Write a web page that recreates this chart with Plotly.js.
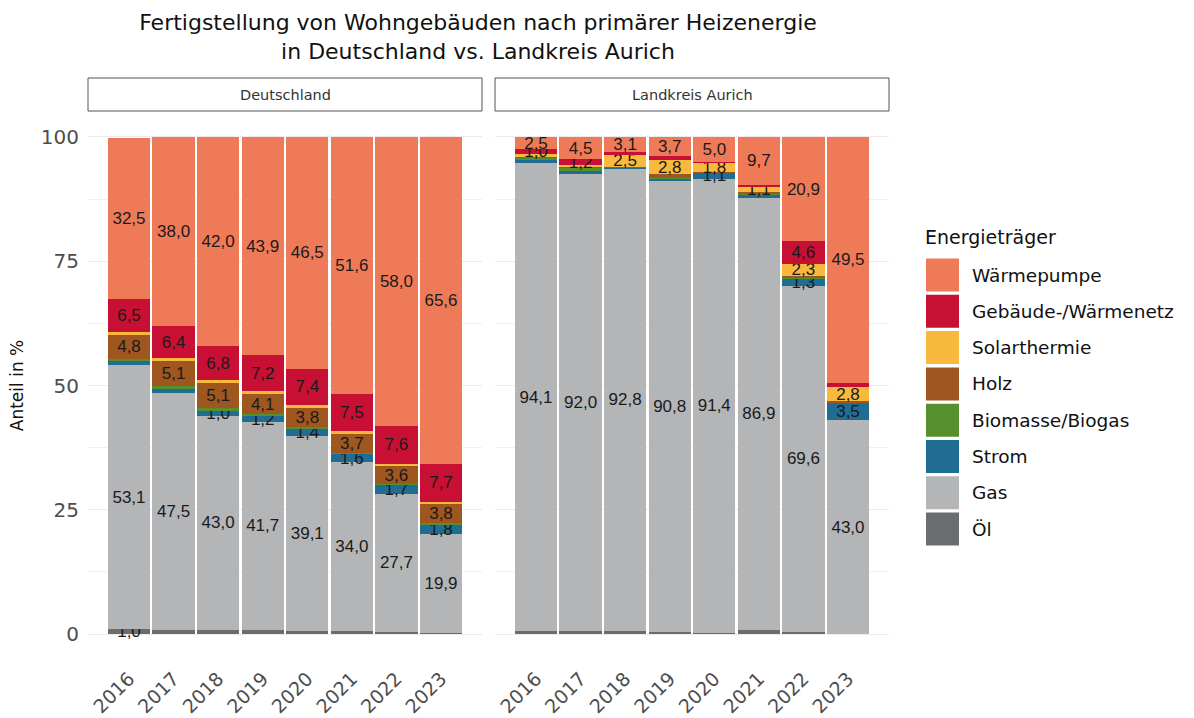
<!DOCTYPE html>
<html>
<head>
<meta charset="utf-8">
<script src="https://cdn.plot.ly/plotly-3.0.1.min.js"></script>
<style>
html,body{margin:0;padding:0;background:#fff;}
#chart{width:1194px;height:718px;}
</style>
</head>
<body>
<div id="chart"></div>
<script>
// ---------- data ----------
const years = ["2016","2017","2018","2019","2020","2021","2022","2023"];
const panels = ["Deutschland","Landkreis Aurich"];
// stacking order bottom -> top
const categories = ["Öl","Gas","Strom","Biomasse/Biogas","Holz","Solarthermie","Gebäude-/Wärmenetz","Wärmepumpe"];
const colors = ["#6B6C70","#B4B5B7","#1F6D93","#56902D","#A0561F","#F8B93C","#C81034","#EF7A58"];

// Deutschland (%)
const deOel   = [1.0, 0.9, 0.9, 0.9, 0.7, 0.6, 0.5, 0.3];
const deGas   = [53.1, 47.5, 43.0, 41.7, 39.1, 34.0, 27.7, 19.9];
const deStrom = [0.8, 0.9, 1.0, 1.2, 1.4, 1.6, 1.7, 1.8];
const deBio   = [0.5, 0.5, 0.5, 0.4, 0.4, 0.3, 0.3, 0.3];
const deHolz  = [4.8, 5.1, 5.1, 4.1, 3.8, 3.7, 3.6, 3.8];
const deSolar = [0.6, 0.6, 0.6, 0.6, 0.6, 0.6, 0.5, 0.5];
const deNetz  = [6.5, 6.4, 6.8, 7.2, 7.4, 7.5, 7.6, 7.7];
const deWP    = [32.5, 38.0, 42.0, 43.9, 46.5, 51.6, 58.0, 65.6];

// Landkreis Aurich (%)
const auOel   = [0.6, 0.6, 0.7, 0.4, 0.2, 0.9, 0.5, 0.0];
const auGas   = [94.1, 92.0, 92.8, 90.8, 91.4, 86.9, 69.6, 43.0];
const auStrom = [0.7, 0.5, 0.2, 0.3, 1.1, 0.5, 1.3, 3.5];
const auBio   = [0.3, 0.6, 0.1, 0.3, 0.1, 0.3, 0.2, 0.0];
const auHolz  = [0.2, 0.3, 0.1, 0.7, 0.2, 0.3, 0.5, 0.3];
const auSolar = [0.6, 0.3, 2.5, 2.8, 1.8, 1.1, 2.3, 2.8];
const auNetz  = [1.0, 1.2, 0.5, 0.9, 0.2, 0.3, 4.6, 0.9];
const auWP    = [2.5, 4.5, 3.1, 3.7, 5.0, 9.7, 20.9, 49.5];

const deSeries = [deOel, deGas, deStrom, deBio, deHolz, deSolar, deNetz, deWP];
const auSeries = [auOel, auGas, auStrom, auBio, auHolz, auSolar, auNetz, auWP];

// ---------- build ----------
const W = 1194, H = 718;
const px = x => x / W;
const py = y => 1 - y / H;
const labelFont = {family: "Liberation Sans, Arial, sans-serif", size: 17, color: "#1a1a1a"};
const uiFont = "'DejaVu Sans', sans-serif";

function fmt(v){ return v >= 1 ? v.toFixed(1).replace('.', ',') : ""; }

const traces = [];
[deSeries, auSeries].forEach((series, p) => {
  series.forEach((vals, i) => {
    traces.push({
      type: "bar",
      name: categories[i],
      x: years,
      y: vals,
      xaxis: p === 0 ? "x" : "x2",
      yaxis: "y",
      width: 0.95,
      marker: {color: colors[i], line: {width: 0}},
      text: vals.map(fmt),
      textposition: "inside",
      insidetextanchor: "middle",
      textangle: 0,
      constraintext: "none",
      insidetextfont: labelFont,
      textfont: labelFont,
      hoverinfo: "x+y+name",
      showlegend: false
    });
  });
});

const shapes = [];
const annotations = [];
// strip boxes
[["x", panels[0]], ["x2", panels[1]]].forEach(([ax, name]) => {
  shapes.push({type: "rect", xref: ax + " domain", yref: "paper",
    x0: 0, x1: 1, y0: py(111), y1: py(78),
    line: {color: "#555555", width: 1}, fillcolor: "#ffffff", layer: "above"});
  annotations.push({xref: ax + " domain", yref: "paper", x: 0.5, y: py(94.5),
    text: name, showarrow: false, xanchor: "center", yanchor: "middle",
    font: {family: uiFont, size: 14.5, color: "#333333"}});
});

// manual legend (large keys like the original)
annotations.push({xref: "paper", yref: "paper", x: px(923), y: py(237),
  text: "Energieträger", showarrow: false, xanchor: "left", yanchor: "middle",
  font: {family: uiFont, size: 19, color: "#111111"}});
for (let k = 0; k < categories.length; k++) {
  const idx = categories.length - 1 - k; // top = Wärmepumpe
  const cy = 275 + k * 36.3;
  shapes.push({type: "rect", xref: "paper", yref: "paper",
    x0: px(926), x1: px(959), y0: py(cy + 16.5), y1: py(cy - 16.5),
    line: {width: 0}, fillcolor: colors[idx]});
  annotations.push({xref: "paper", yref: "paper", x: px(970), y: py(cy),
    text: categories[idx], showarrow: false, xanchor: "left", yanchor: "middle",
    font: {family: uiFont, size: 18.5, color: "#111111"}});
}

const tickFont = {family: uiFont, size: 19, color: "#4D4D4D"};
const layout = {
  width: W, height: H,
  paper_bgcolor: "#ffffff", plot_bgcolor: "#ffffff",
  margin: {l: 0, r: 0, t: 0, b: 0},
  barmode: "stack",
  bargap: 0,
  showlegend: false,
  title: {
    text: "Fertigstellung von Wohngebäuden nach primärer Heizenergie<br>in Deutschland vs. Landkreis Aurich",
    x: px(478), xanchor: "center", xref: "paper",
    y: py(30), yanchor: "middle", yref: "container",
    font: {family: uiFont, size: 22, color: "#111111"}
  },
  xaxis: {
    domain: [px(88), px(482)], anchor: "y",
    type: "category", range: [-0.92, 7.92],
    showgrid: false, zeroline: false, showline: false, ticks: "",
    tickangle: -45, tickfont: tickFont, ticklabelstandoff: 4
  },
  xaxis2: {
    domain: [px(495), px(889)], anchor: "y",
    type: "category", range: [-0.92, 7.92],
    showgrid: false, zeroline: false, showline: false, ticks: "",
    tickangle: -45, tickfont: tickFont, ticklabelstandoff: 4
  },
  yaxis: {
    domain: [py(659), py(112)], anchor: "x",
    range: [-5, 105],
    tickvals: [0, 25, 50, 75, 100], ticktext: ["0","25","50","75","100"],
    tickfont: {family: uiFont, size: 20, color: "#4D4D4D"}, ticks: "", ticklabelstandoff: 8,
    showgrid: true, gridcolor: "#EBEBEB", gridwidth: 1.2,
    minor: {tickvals: [12.5, 37.5, 62.5, 87.5], showgrid: true, gridcolor: "#F1F1F1", gridwidth: 1},
    zeroline: false, showline: false,
    title: {text: "Anteil in %", font: {family: uiFont, size: 17, color: "#111111"}, standoff: 12}
  },
  shapes: shapes,
  annotations: annotations
};

Plotly.newPlot("chart", traces, layout, {displayModeBar: false, staticPlot: true});
</script>
</body>
</html>
